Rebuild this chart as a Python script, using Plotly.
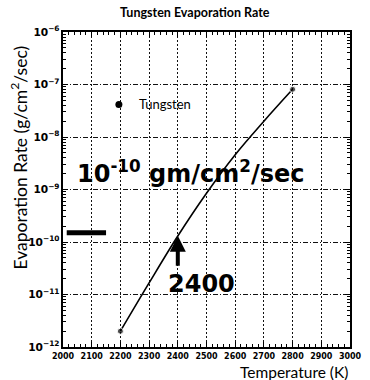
import math
import plotly.graph_objects as go

# Tungsten evaporation rate (g/cm^2/sec) vs. temperature (K)
temperature_k = [2200, 2300, 2400, 2500, 2600, 2700, 2800]
evap_rate = [2.0e-12, 1.66e-11, 1.3e-10, 8.5e-10, 4.6e-9, 2.0e-8, 8.1e-8]
series_name = "Tungsten"

# Hand-marked reading on the curve
marked_temp = 2400
marked_rate = 1.5e-10
marked_label = "2400"
marked_note = "10<sup>-10</sup> gm/cm<sup>2</sup>/sec"
dash_temps = [2013, 2150]

x_ticks = list(range(2000, 3001, 100))

ink = "black"
fig = go.Figure()

# Evaporation curve with end-point markers
end_sizes = [6 if i in (0, len(temperature_k) - 1) else 0 for i in range(len(temperature_k))]
fig.add_trace(go.Scatter(
    x=temperature_k, y=evap_rate, mode="lines+markers",
    line=dict(color=ink, width=1.6, shape="spline", smoothing=1.0),
    marker=dict(color=ink, size=end_sizes),
    showlegend=False, hoverinfo="skip",
))
# Legend entry: filled dot
fig.add_trace(go.Scatter(
    x=[None], y=[None], mode="markers", name=series_name,
    marker=dict(color=ink, size=7),
))
# Pen stroke marking the rate level on the axis
fig.add_trace(go.Scatter(
    x=dash_temps, y=[marked_rate] * len(dash_temps), mode="lines",
    line=dict(color=ink, width=5), showlegend=False, hoverinfo="skip",
))

tick_font = dict(family="DejaVu Sans", size=8, color=ink, weight="bold")
fig.update_xaxes(
    range=[2000, 3000], tickvals=x_ticks, ticktext=[str(v) for v in x_ticks],
    ticks="inside", ticklen=5, tickcolor=ink, tickfont=tick_font,
    ticklabeloverflow="allow", ticklabelstandoff=1,
    showline=True, linecolor=ink, linewidth=1.5, mirror="ticks",
    showgrid=True, gridcolor="#111", gridwidth=1, griddash="2px,2px",
    minor=dict(dtick=20, ticks="inside", ticklen=3, tickcolor=ink),
    zeroline=False,
)
fig.update_yaxes(
    type="log", range=[-12, -6], dtick=1, exponentformat="power",
    ticks="inside", ticklen=5, tickcolor=ink,
    tickfont=dict(family="DejaVu Sans", size=8.5, color=ink, weight="bold"),
    ticklabeloverflow="allow",
    showline=True, linecolor=ink, linewidth=1.5, mirror="ticks",
    showgrid=True, gridcolor="#111", gridwidth=1, griddash="5px,2px,1px,2px",
    minor=dict(dtick="D1", ticks="inside", ticklen=3, tickcolor=ink),
    zeroline=False,
)

hand_font = dict(family="DejaVu Sans", size=24, color=ink, weight="bold")
fig.update_layout(
    width=370, height=380,
    margin=dict(l=63, r=8, t=32, b=33),
    paper_bgcolor="white", plot_bgcolor="white",
    font=dict(family="Lato", color=ink),
    showlegend=True,
    legend=dict(x=0.125, y=0.77, xanchor="left", yanchor="middle",
                bgcolor="rgba(0,0,0,0)", itemwidth=30,
                font=dict(family="Lato", size=13, color=ink)),
    annotations=[
        dict(text="<b>Tungsten Evaporation Rate</b>", xref="paper", yref="paper",
             x=0.46, y=1.063, showarrow=False, xanchor="center", yanchor="middle",
             font=dict(family="Lato", size=12.5, color=ink)),
        dict(text="Evaporation Rate (g/cm<sup>2</sup>/sec)", xref="paper", yref="paper",
             x=-0.155, y=0.60, textangle=-90, showarrow=False,
             xanchor="center", yanchor="middle",
             font=dict(family="Lato", size=17.5, color=ink)),
        dict(text="Temperature (K)", xref="paper", yref="paper",
             x=1.0, y=(347 - 372) / 315, showarrow=False, xanchor="right", yanchor="middle",
             font=dict(family="Lato", size=15.5, color=ink)),
        dict(text=marked_note, xref="paper", yref="paper",
             x=(196 - 63) / 299, y=(347 - 172) / 315, showarrow=False,
             xanchor="center", yanchor="middle", font=hand_font),
        dict(text=" ", x=marked_temp, y=math.log10(marked_rate), xref="x", yref="y",
             showarrow=True, ax=0, ay=42, arrowhead=2, arrowsize=0.8,
             arrowwidth=4, arrowcolor=ink, standoff=3),
        dict(text=marked_label, xref="paper", yref="paper",
             x=(207 - 63) / 299, y=(347 - 284) / 315, showarrow=False,
             xanchor="center", yanchor="middle", font=hand_font),
    ],
)

fig.write_html("out.html")
